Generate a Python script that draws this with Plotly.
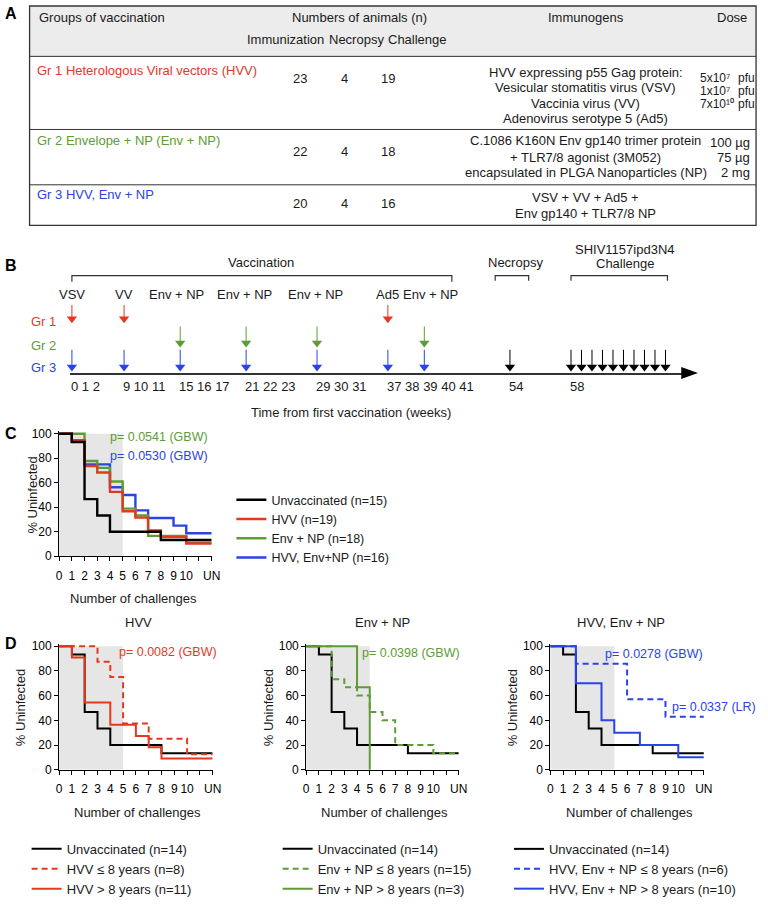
import numpy as np
import plotly.graph_objects as go

# ======================= DATA =======================
# Panel A - study table
table_groups = ["Gr 1 Heterologous Viral vectors (HVV)",
                "Gr 2 Envelope + NP (Env + NP)",
                "Gr 3 HVV, Env + NP"]
n_immunization = [23, 22, 20]
n_necropsy = [4, 4, 4]
n_challenge = [19, 18, 16]
immunogens = [
    ["HVV expressing p55 Gag protein:", "Vesicular stomatitis virus (VSV)",
     "Vaccinia virus (VV)", "Adenovirus serotype 5 (Ad5)"],
    ["C.1086 K160N Env gp140 trimer protein", "+ TLR7/8 agonist (3M052)",
     "encapsulated in PLGA Nanoparticles (NP)"],
    ["VSV + VV + Ad5 +", "Env gp140 + TLR7/8 NP"],
]
hvv_dose_amounts = ["5x10\u2077", "1x10\u2077", "7x10\u00b9\u2070"]
hvv_dose_unit = "pfu"
env_doses = ["100 µg", "75 µg", "2 mg"]

# Panel B - vaccination schedule (weeks)
vacc_labels = ["VSV", "VV", "Env + NP", "Env + NP", "Env + NP", "Ad5", "Env + NP"]
vacc_weeks = [0, 9, 15, 21, 29, 37, 39]
gr1_weeks = [0, 9, 37]
gr2_weeks = [15, 21, 29, 39]
gr3_weeks = [0, 9, 15, 21, 29, 37, 39]
necropsy_weeks = [54]
challenge_weeks = [58, 59, 60, 61, 62, 63, 64, 65, 66, 67]
week_label_groups = ["0 1 2", "9 10 11", "15 16 17", "21 22 23", "29 30 31",
                     "37 38 39 40 41", "54", "58"]
week_label_start = [0, 9, 15, 21, 29, 37, 54, 58]

# Panels C/D - challenge axis
challenge_ticks = list(range(13))
challenge_ticklabels = ["0", "1", "2", "3", "4", "5", "6", "7", "8", "9", "10", "", "UN"]
pct_ticks = [0, 20, 40, 60, 80, 100]

# Panel C - % uninfected by number of challenges
c_unvacc_x = [0, 1, 2, 3, 4, 8, 12]
c_unvacc_y = [100, 93.3, 46.7, 33.3, 20.0, 13.3, 13.3]
c_hvv_x = [0, 1, 2, 3, 4, 5, 6, 7, 8, 10, 12]
c_hvv_y = [100, 94.7, 73.7, 68.4, 52.6, 36.8, 31.6, 21.1, 15.8, 10.5, 10.5]
c_env_x = [0, 2, 3, 4, 5, 6, 7, 10, 12]
c_env_y = [100, 77.8, 72.2, 61.1, 38.9, 33.3, 16.7, 11.1, 11.1]
c_combo_x = [0, 1, 2, 4, 5, 6, 7, 9, 10, 12]
c_combo_y = [100, 93.8, 75.0, 56.3, 50.0, 37.5, 31.3, 25.0, 18.8, 18.8]

# Panel D - by age
d_unvacc_x = [0, 1, 2, 3, 4, 8, 12]
d_unvacc_y = [100, 93.3, 46.7, 33.3, 20.0, 13.3, 13.3]
d1_le8_x = [0, 3, 4, 5, 7, 10, 12]
d1_le8_y = [100, 87.5, 75.0, 37.5, 25.0, 12.5, 12.5]
d1_gt8_x = [0, 1, 2, 4, 6, 7, 8, 12]
d1_gt8_y = [100, 90.9, 54.5, 36.4, 27.3, 18.2, 9.1, 9.1]
d2_le8_x = [0, 2, 3, 4, 5, 6, 7, 10, 12]
d2_le8_y = [100, 73.3, 66.7, 60.0, 46.7, 40.0, 20.0, 13.3, 13.3]
d2_gt8_x = [0, 4, 5]
d2_gt8_y = [100, 66.7, 0]
d3_le8_x = [0, 2, 6, 9, 12]
d3_le8_y = [100, 85.7, 57.1, 42.9, 42.9]
d3_gt8_x = [0, 2, 4, 5, 7, 10, 12]
d3_gt8_y = [100, 70.0, 40.0, 30.0, 20.0, 10.0, 10.0]

# ======================= STYLE / LAYOUT =======================
W, H = 768, 917
FONT = "Liberation Sans, Arial, Helvetica, sans-serif"
RED = "#e2391f"
GREEN = "#5e9c35"
BLUE = "#2a44e4"
BLACK = "#000000"
TXT = "#1a1a1a"
BAND = "#e6e6e6"


def X(px):
    return px / W


def Y(py):
    return 1 - py / H


fig = go.Figure()
annotations = []
shapes = []


def text(x, y, s, size=13, color=TXT, anchor="center", angle=0, bold=False):
    if bold:
        s = "<b>" + s + "</b>"
    annotations.append(dict(x=X(x), y=Y(y), xref="paper", yref="paper", text=s,
                            showarrow=False, xanchor=anchor, yanchor="middle",
                            textangle=angle,
                            font=dict(family=FONT, size=size, color=color)))


def hline(x0, x1, y, color="#333", width=1):
    shapes.append(dict(type="line", xref="paper", yref="paper", x0=X(x0), x1=X(x1),
                       y0=Y(y), y1=Y(y), line=dict(color=color, width=width)))


# ---------------- Panel A ----------------
text(8, 10, "A", size=16, color="#000", bold=True)
shapes.append(dict(type="rect", xref="paper", yref="paper", x0=X(27), x1=X(765),
                   y0=Y(53), y1=Y(2), fillcolor="#ececec", line=dict(width=0), layer="below"))
shapes.append(dict(type="rect", xref="paper", yref="paper", x0=X(27), x1=X(765),
                   y0=Y(224), y1=Y(2), line=dict(color="#333", width=1.3)))
for yy in [53, 127, 183]:
    hline(27, 765, yy)

TY = -2  # small vertical correction for table text
text(35, 16 + TY, "Groups of vaccination", anchor="left")
text(362, 16 + TY, "Numbers of animals (n)")
text(287, 38 + TY, "Immunization")
text(359, 38 + TY, "Necropsy")
text(421, 38 + TY, "Challenge")
text(592, 16 + TY, "Immunogens")
text(741, 16 + TY, "Dose")

group_colors = [RED, GREEN, BLUE]
name_y = [69, 140, 195]
num_y = [77, 151, 204]
imm_y = [[71, 87, 103, 118], [140, 157, 173], [198, 214]]
for i in range(3):
    text(33, name_y[i] + TY, table_groups[i], color=group_colors[i], anchor="left")
    text(302, num_y[i] + TY, str(n_immunization[i]))
    text(347, num_y[i] + TY, str(n_necropsy[i]))
    text(391, num_y[i] + TY, str(n_challenge[i]))
    for s, yy in zip(immunogens[i], imm_y[i]):
        text(592, yy + TY, s)
for s, yy in zip(hvv_dose_amounts, [77, 90, 103]):
    text(706, yy + TY, s, size=12, anchor="left")
    text(745, yy + TY, hvv_dose_unit, size=12, anchor="left")
for s, yy in zip(env_doses, [142, 157, 173]):
    text(761, yy + TY, s, anchor="right")

# ---------------- Panel B ----------------
text(8, 265, "B", size=16, color="#000", bold=True)
# schematic (non-linear) week -> display scale
ANCH_W = [0, 9, 15, 21, 29, 37, 39, 54, 58, 67]
ANCH_PX = [70, 123, 180, 247, 319, 391, 428, 515, 577, 673]


def wpos(w):
    return np.interp(np.asarray(w, dtype=float), ANCH_W, ANCH_PX)


B_PPU = 24.5   # pixels per row unit


def arrows(weeks, row, color, tail):
    xs = wpos(weeks)
    lx, ly = [], []
    for xv in xs:
        lx += [xv, xv, None]
        ly += [row + tail, row + 0.2, None]
    fig.add_trace(go.Scatter(x=lx, y=ly, mode="lines", line=dict(color=color, width=1),
                             xaxis="x2", yaxis="y2", showlegend=False, hoverinfo="skip"))
    fig.add_trace(go.Scatter(x=xs, y=[row + 4.5 / B_PPU] * len(xs), mode="markers",
                             marker=dict(symbol="triangle-down", size=9, color=color),
                             xaxis="x2", yaxis="y2", showlegend=False, hoverinfo="skip",
                             cliponaxis=False))


arrows(gr1_weeks, 2, RED, 0.75)
arrows(gr2_weeks, 1, GREEN, 0.86)
arrows(gr3_weeks, 0, BLUE, 0.9)
arrows(necropsy_weeks, 0, BLACK, 0.9)
arrows(challenge_weeks, 0, BLACK, 0.9)

fig.update_layout(
    xaxis2=dict(domain=[X(68), X(690)], range=[68, 690], anchor="y2", showline=True,
                linecolor="#333", linewidth=1.5, showticklabels=False, ticks="",
                showgrid=False, zeroline=False),
    yaxis2=dict(domain=[Y(373), Y(240)], range=[-0.04, (372 - 240) / B_PPU], anchor="x2",
                visible=False, showgrid=False, zeroline=False),
)
# arrow head of the time line
shapes.append(dict(type="path", xref="paper", yref="paper",
                   path=f"M {X(689)},{Y(367.5)} L {X(706)},{Y(373.5)} L {X(689)},{Y(379.5)} Z",
                   fillcolor="#000", line=dict(width=0)))


def bracket(x0, x1, y, y_end):
    shapes.append(dict(type="path", xref="paper", yref="paper",
                       path=f"M {X(x0)},{Y(y_end)} L {X(x0)},{Y(y)} L {X(x1)},{Y(y)} L {X(x1)},{Y(y_end)}",
                       line=dict(color="#333", width=1.2)))


bracket(70, 456, 275, 281)
bracket(500, 534, 275, 280)
bracket(577, 675, 275, 280)
text(262, 262, "Vaccination")
text(521, 262, "Necropsy")
text(632, 248, "SHIV1157ipd3N4")
text(632, 263, "Challenge")

label_shift = [0, 0, -4, -2, -2, 0, 6]
for lab, w, sh in zip(vacc_labels, vacc_weeks, label_shift):
    text(float(wpos(w)) + sh, 294, lab)
text(41, 321, "Gr 1", color=RED)
text(41, 346, "Gr 2", color=GREEN)
text(41, 368, "Gr 3", color=BLUE)
for lab, w in zip(week_label_groups, week_label_start):
    text(float(wpos(w)) - 3, 387, lab, anchor="left")
text(354, 413, "Time from first vaccination (weeks)")

# ---------------- Panels C & D ----------------


def surv_axes(n, x0, x1, y100, y0, standoff=4):
    ppu = (y0 - y100) / 100.0
    top = y100 - 2 * ppu
    common_x = dict(domain=[X(x0), X(x1)], range=[0, 12], anchor=f"y{n}",
                    tickmode="array", tickvals=challenge_ticks, ticktext=challenge_ticklabels,
                    ticks="outside", ticklen=4, tickwidth=1, tickcolor="#000",
                    showline=True, linecolor="#000", linewidth=1, showgrid=False,
                    zeroline=False, tickfont=dict(family=FONT, size=12, color="#000"),
                    ticklabelstandoff=standoff)
    common_y = dict(domain=[Y(y0), Y(top)], range=[0, 102], anchor=f"x{n}",
                    tickmode="array", tickvals=pct_ticks, ticks="outside", ticklen=4,
                    tickwidth=1, tickcolor="#000", showline=True, linecolor="#000",
                    linewidth=1, showgrid=False, zeroline=False,
                    tickfont=dict(family=FONT, size=12, color="#000"))
    fig.update_layout({f"xaxis{n}": common_x, f"yaxis{n}": common_y})
    shapes.append(dict(type="rect", xref=f"x{n}", yref=f"y{n}", x0=0, x1=5, y0=0, y1=100,
                       fillcolor=BAND, line=dict(width=0), layer="below"))


def curve(n, xs, ys, color, name, legend, width, dash="solid", rank=1):
    fig.add_trace(go.Scatter(x=xs, y=ys, mode="lines", line_shape="hv",
                             line=dict(color=color, width=width, dash=dash),
                             name=name, xaxis=f"x{n}", yaxis=f"y{n}", legend=legend,
                             legendrank=rank, hoverinfo="skip"))


# Panel C
text(8, 435, "C", size=16, color="#000", bold=True)
surv_axes(3, 57, 212, 435, 559)
curve(3, c_combo_x, c_combo_y, BLUE, "HVV, Env+NP (n=16)", "legend", 2.4, rank=4)
curve(3, c_env_x, c_env_y, GREEN, "Env + NP (n=18)", "legend", 2.4, rank=3)
curve(3, c_hvv_x, c_hvv_y, RED, "HVV (n=19)", "legend", 2.4, rank=2)
curve(3, c_unvacc_x, c_unvacc_y, BLACK, "Unvaccinated (n=15)", "legend", 2.4, rank=1)
text(30, 497, "% Uninfected", angle=-90)
text(133, 602, "Number of challenges")
text(107, 438, "p= 0.0541 (GBW)", size=12.5, color=GREEN, anchor="left")
text(107, 457, "p= 0.0530 (GBW)", size=12.5, color=BLUE, anchor="left")

# Panel D
text(8, 647, "D", size=16, color="#000", bold=True)
DASH = "6px,4px"
d_specs = [
    (4, 57, 213, "HVV", 138, RED, d1_le8_x, d1_le8_y, d1_gt8_x, d1_gt8_y,
     "HVV ≤ 8 years (n=8)", "HVV > 8 years (n=11)", "legend2", 18),
    (5, 308, 463, "Env + NP", 386, GREEN, d2_le8_x, d2_le8_y, d2_gt8_x, d2_gt8_y,
     "Env + NP ≤ 8 years (n=15)", "Env + NP > 8 years (n=3)", "legend3", 270),
    (6, 556, 712, "HVV, Env + NP", 628, BLUE, d3_le8_x, d3_le8_y, d3_gt8_x, d3_gt8_y,
     "HVV, Env + NP ≤ 8 years (n=6)", "HVV, Env + NP > 8 years (n=10)", "legend4", 518),
]
for (n, x0, x1, title, tx, col, lx, ly, gx, gy, lname, gname, leg, ylab_x) in d_specs:
    surv_axes(n, x0, x1, 650, 775)
    curve(n, d_unvacc_x, d_unvacc_y, BLACK, "Unvaccinated (n=14)", leg, 2, rank=1)
    curve(n, lx, ly, col, lname, leg, 2, dash=DASH, rank=2)
    curve(n, gx, gy, col, gname, leg, 2, rank=3)
    text(tx, 626, title)
    text(ylab_x, 712, "% Uninfected", angle=-90)
    text((x0 + x1) / 2 + 2, 818, "Number of challenges")

text(116, 656, "p= 0.0082 (GBW)", size=12.5, color=RED, anchor="left")
text(363, 657, "p= 0.0398 (GBW)", size=12.5, color=GREEN, anchor="left")
text(610, 658, "p= 0.0278 (GBW)", size=12.5, color=BLUE, anchor="left")
text(678, 712, "p= 0.0337 (LR)", size=12.5, color=BLUE, anchor="left")

leg_common = dict(xanchor="left", yanchor="top", bgcolor="rgba(0,0,0,0)",
                  tracegroupgap=0, itemwidth=30, traceorder="normal", borderwidth=0)
fig.update_layout(
    legend=dict(x=X(232), y=Y(487), font=dict(family=FONT, size=12.5, color=TXT), **leg_common),
    legend2=dict(x=X(24), y=Y(840), font=dict(family=FONT, size=13, color=TXT), **leg_common),
    legend3=dict(x=X(279), y=Y(840), font=dict(family=FONT, size=13, color=TXT), **leg_common),
    legend4=dict(x=X(514), y=Y(840), font=dict(family=FONT, size=13, color=TXT), **leg_common),
)

fig.update_layout(
    width=W, height=H, margin=dict(l=0, r=0, t=0, b=0),
    paper_bgcolor="white", plot_bgcolor="rgba(0,0,0,0)",
    font=dict(family=FONT, size=13, color=TXT),
    annotations=annotations, shapes=shapes, showlegend=True,
)

fig.write_html("out.html", config={"displayModeBar": False},
               post_script="document.body.style.margin='0';")
